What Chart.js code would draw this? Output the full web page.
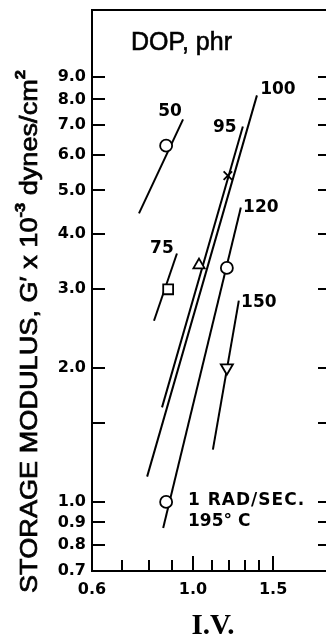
<!DOCTYPE html>
<html>
<head>
<meta charset="utf-8">
<script src="https://cdn.jsdelivr.net/npm/chart.js@4.4.1/dist/chart.umd.min.js"></script>
<style>
  html, body { margin: 0; padding: 0; background: #fff; overflow: hidden; }
  #wrap { width: 326px; height: 639px; overflow: hidden; position: relative; }
  canvas { display: block; }
</style>
</head>
<body>
<div id="wrap"><canvas id="modulusChart" width="340" height="639"></canvas></div>
<script>
// DOP content of each line, phr
var dopLevels = ["50", "75", "95", "100", "120", "150"];
// line end points: I.V. and G' x 10^-3 (dynes/cm2)
var lineIVStart = [0.761, 0.821, 0.855, 0.793, 0.860, 1.106];
var lineIVEnd   = [0.951, 0.922, 1.287, 1.382, 1.274, 1.261];
var lineGStart  = [4.44, 2.55, 1.63, 1.14, 0.874, 1.31];
var lineGEnd    = [7.22, 3.61, 6.96, 8.17, 4.58, 2.83];
// measured points
var pointSeries = ["50", "75", "95", "100", "120", "120", "150"];
var pointIV = [0.873, 0.882, 1.031, 1.193, 1.187, 0.873, 1.187];
var pointG  = [6.3, 3.0, 3.4, 5.4, 3.35, 1.0, 2.0];
// axis ticks
var xTickLabels = [0.6, 1.0, 1.5];
var xTickMarks = [0.7, 0.8, 0.9, 1.0, 1.1, 1.2, 1.3, 1.4, 1.5];
var yTickLabels = [0.7, 0.8, 0.9, 1.0, 2.0, 3.0, 4.0, 5.0, 6.0, 7.0, 8.0, 9.0];
var yTickMarks = [0.8, 0.9, 1.0, 1.5, 2.0, 3.0, 4.0, 5.0, 6.0, 7.0, 8.0, 9.0];

var INK = "#000";

var markerStyle = {
  "50":  { pointStyle: "circle", radius: 6, rotation: 0 },
  "75":  { pointStyle: "rect", radius: 7, rotation: 0 },
  "95":  { pointStyle: "triangle", radius: 6.5, rotation: 0 },
  "100": { pointStyle: "crossRot", radius: 6, rotation: 0 },
  "120": { pointStyle: "circle", radius: 6, rotation: 0 },
  "150": { pointStyle: "triangle", radius: 7, rotation: 180 }
};

// where each DOP label sits relative to the upper end of its line
var labelOffset = {
  "50": [-13, -8], "75": [-15, -5], "95": [-18, 1],
  "100": [21, -6], "120": [20, 0], "150": [20, 2]
};

var datasets = [];

pointIV.forEach(function (iv, i) {
  var st = markerStyle[pointSeries[i]];
  datasets.push({
    label: pointSeries[i] + " phr",
    data: [{ x: iv, y: pointG[i] }],
    pointStyle: st.pointStyle,
    pointRadius: st.radius,
    pointRotation: st.rotation,
    pointBackgroundColor: "#fff",
    pointBorderColor: INK,
    pointBorderWidth: 1.8,
    order: 0
  });
});

dopLevels.forEach(function (d, i) {
  datasets.push({
    label: d + " phr line",
    data: [{ x: lineIVStart[i], y: lineGStart[i] }, { x: lineIVEnd[i], y: lineGEnd[i] }],
    showLine: true,
    borderColor: INK,
    borderWidth: 2,
    pointRadius: 0,
    order: 1
  });
});

function drawYTitle(ctx) {
  var parts = [
    { t: "STORAGE MODULUS, G\u2032 x 10", sup: false },
    { t: "-3", sup: true },
    { t: " dynes/cm", sup: false },
    { t: "2", sup: true }
  ];
  var size = 23;
  var fam = "'Liberation Sans', Arial, sans-serif";
  var total = 0;
  parts.forEach(function (p) {
    ctx.font = (p.sup ? Math.round(size * 0.62) : size) + "px " + fam;
    p.w = ctx.measureText(p.t).width;
    total += p.w;
  });
  var target = 523;
  ctx.save();
  ctx.translate(37, 593);
  ctx.rotate(-Math.PI / 2);
  ctx.scale(target / total, 1);
  ctx.fillStyle = INK;
  ctx.strokeStyle = INK;
  ctx.lineWidth = 0.7;
  ctx.textBaseline = "alphabetic";
  ctx.textAlign = "left";
  var x = 0;
  parts.forEach(function (p) {
    ctx.font = (p.sup ? "bold " + Math.round(size * 0.62) : size) + "px " + fam;
    var y = p.sup ? -size * 0.52 : 0;
    ctx.fillText(p.t, x, y);
    ctx.strokeText(p.t, x, y);
    x += p.w;
  });
  ctx.restore();
}

var frame = {
  id: "frame",
  afterDraw: function (chart) {
    var ctx = chart.ctx;
    var a = chart.chartArea;
    var xs = chart.scales.x;
    var ys = chart.scales.y;
    ctx.save();
    ctx.strokeStyle = INK;
    ctx.lineWidth = 2;

    // top and right edges of the box
    ctx.beginPath();
    ctx.moveTo(a.left - 1, a.top);
    ctx.lineTo(a.right, a.top);
    ctx.lineTo(a.right, a.bottom);
    ctx.stroke();

    // inward tick marks
    ctx.beginPath();
    yTickMarks.forEach(function (v) {
      var py = Math.round(ys.getPixelForValue(v));
      ctx.moveTo(a.left, py);
      ctx.lineTo(a.left + 13, py);
      ctx.moveTo(a.right, py);
      ctx.lineTo(a.right - 12, py);
    });
    xTickMarks.forEach(function (v) {
      var px = Math.round(xs.getPixelForValue(v));
      var len = xTickLabels.indexOf(v) >= 0 ? 15 : 11;
      ctx.moveTo(px, a.bottom);
      ctx.lineTo(px, a.bottom - len);
    });
    ctx.stroke();

    // DOP labels at the top of each line
    ctx.fillStyle = INK;
    ctx.font = "bold 17px 'DejaVu Sans', sans-serif";
    ctx.textAlign = "center";
    ctx.textBaseline = "middle";
    dopLevels.forEach(function (d, i) {
      var px = xs.getPixelForValue(lineIVEnd[i]) + labelOffset[d][0];
      var py = ys.getPixelForValue(lineGEnd[i]) + labelOffset[d][1];
      ctx.fillText(d, px, py);
    });

    ctx.textAlign = "left";
    ctx.textBaseline = "alphabetic";
    ctx.font = "25px 'Liberation Sans', Arial, sans-serif";
    ctx.lineWidth = 0.6;
    ctx.fillText("DOP, phr", 131, 50);
    ctx.strokeText("DOP, phr", 131, 50);

    ctx.font = "bold 17px 'DejaVu Sans', sans-serif";
    ctx.letterSpacing = "1px";
    ctx.fillText("1 RAD/SEC.", 188, 505);
    ctx.letterSpacing = "0px";
    ctx.fillText("195\u00b0 C", 188, 526);

    ctx.textAlign = "center";
    ctx.font = "bold 29px 'Liberation Serif', serif";
    ctx.fillText("I.V.", 213, 634);

    drawYTitle(ctx);
    ctx.restore();
  }
};

new Chart(document.getElementById("modulusChart"), {
  type: "scatter",
  data: { datasets: datasets },
  options: {
    responsive: false,
    animation: false,
    layout: { padding: { top: 10, right: 10, left: 0, bottom: 0 } },
    plugins: {
      legend: { display: false },
      tooltip: { enabled: false }
    },
    scales: {
      x: {
        type: "logarithmic",
        min: 0.6,
        max: 2.0,
        afterBuildTicks: function (axis) {
          axis.ticks = xTickLabels.map(function (v) { return { value: v }; });
        },
        afterFit: function (axis) {
          axis.height = 68;
          axis.paddingLeft = 0;
          axis.paddingRight = 0;
        },
        grid: { display: false, drawTicks: false },
        border: { display: true, color: INK, width: 2 },
        ticks: {
          autoSkip: false,
          maxRotation: 0,
          padding: 9,
          color: INK,
          font: { family: "'DejaVu Sans', sans-serif", size: 16, weight: "bold" },
          callback: function (v) { return Number(v).toFixed(1); }
        }
      },
      y: {
        type: "logarithmic",
        min: 0.7,
        max: 12.7,
        afterBuildTicks: function (axis) {
          axis.ticks = yTickLabels.map(function (v) { return { value: v }; });
        },
        afterFit: function (axis) {
          axis.width = 92;
          axis.paddingTop = 0;
          axis.paddingBottom = 0;
        },
        grid: { display: false, drawTicks: false },
        border: { display: true, color: INK, width: 2 },
        ticks: {
          autoSkip: false,
          padding: 6,
          color: INK,
          font: { family: "'DejaVu Sans', sans-serif", size: 16, weight: "bold" },
          callback: function (v) { return Number(v).toFixed(1); }
        }
      }
    }
  },
  plugins: [frame]
});
</script>
</body>
</html>
